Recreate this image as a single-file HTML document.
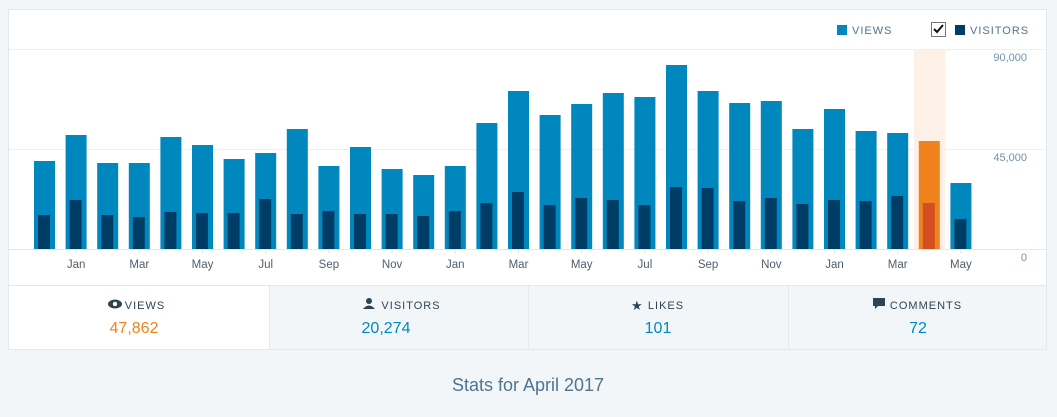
<!DOCTYPE html>
<html><head><meta charset="utf-8"><style>
html,body{margin:0;padding:0;background:#f3f6f8;width:1057px;height:417px;overflow:hidden}
svg{display:block;font-family:"Liberation Sans",sans-serif}
</style></head><body>
<svg id="s" width="1057" height="417" xmlns="http://www.w3.org/2000/svg">
<rect x="8.5" y="9.5" width="1038" height="340" fill="#fff" stroke="#e3e8ec"/>
<line x1="9" y1="49.5" x2="1046" y2="49.5" stroke="#eef1f3"/>
<line x1="9" y1="149.5" x2="1046" y2="149.5" stroke="#eef1f3"/>
<rect x="914" y="50" width="31" height="199" fill="#fdf0e6"/>
<g id="bars"></g>
<line x1="9" y1="249.5" x2="1046" y2="249.5" stroke="#e3e8ec"/>
<g id="ticks" font-size="11.5" fill="#4f5e6a" text-anchor="middle"></g>
<g font-size="11" fill="#6f93ad" text-anchor="end">
<text x="1027" y="61">90,000</text><text x="1027" y="161">45,000</text><text x="1027" y="261">0</text>
</g>
<rect x="837" y="25" width="10" height="10" fill="#0087be"/>
<text x="852" y="34" font-size="11" fill="#4f748e" letter-spacing="1">VIEWS</text>
<rect x="931.5" y="22.5" width="14" height="14" fill="#fff" stroke="#777"/>
<path d="M934 29 l3 3 l6 -7" stroke="#111" stroke-width="2" fill="none"/>
<rect x="955" y="25" width="10" height="10" fill="#003d66"/>
<text x="970" y="34" font-size="11" fill="#4f748e" letter-spacing="1">VISITORS</text>
<rect x="269" y="285" width="777" height="64" fill="#f3f6f8"/>
<line x1="9" y1="285.5" x2="1046" y2="285.5" stroke="#e3e8ec"/>
<line x1="269.5" y1="285" x2="269.5" y2="349" stroke="#e3e8ec"/>
<line x1="528.5" y1="285" x2="528.5" y2="349" stroke="#e3e8ec"/>
<line x1="788.5" y1="285" x2="788.5" y2="349" stroke="#e3e8ec"/>
<rect x="8.5" y="9.5" width="1038" height="340" fill="none" stroke="#e3e8ec"/>
<g font-size="11" fill="#2e4453" letter-spacing="1" text-anchor="middle">
<text x="145" y="309">VIEWS</text><text x="411" y="309">VISITORS</text>
<text x="666" y="309">LIKES</text><text x="926" y="309">COMMENTS</text>
</g>
<g fill="#2e4453">
<ellipse cx="115" cy="304" rx="7" ry="4.5"/><circle cx="115" cy="304" r="2.2" fill="#fff"/>
<circle cx="369" cy="301" r="3"/><path d="M363 309 q6 -7 12 0 z"/>
<text x="631" y="310" font-size="13">★</text>
<path d="M873 298 h12 v8 h-7 l-3 3 v-3 h-2 z"/>
</g>
<g font-size="16" text-anchor="middle">
<text x="134" y="333" fill="#f0821e">47,862</text>
<text x="386" y="333" fill="#0087be">20,274</text>
<text x="658" y="333" fill="#0087be">101</text>
<text x="918" y="333" fill="#0087be">72</text>
</g>
<text x="528" y="391" font-size="18" fill="#4f748e" text-anchor="middle">Stats for April 2017</text>
</svg>
<script>
var v=[161,135,163,163,137,145,159,153,129,166,147,169,175,166,123,91,115,104,93,97,65,91,103,101,129,109,131,133,141,183];
var u=[215,200,215,217,212,213,213,199,214,211,214,214,216,211,203,192,205,198,200,205,187,188,201,198,204,200,201,196,203,219];
var m=["Jan","Mar","May","Jul","Sep","Nov","Jan","Mar","May","Jul","Sep","Nov","Jan","Mar","May"];
var g=document.getElementById("bars"),t=document.getElementById("ticks"),h="";
for(var i=0;i<30;i++){var x=34+i*31.6;var o=i==28;
h+='<rect x="'+x+'" y="'+v[i]+'" width="21" height="'+(249-v[i])+'" fill="'+(o?'#f0821e':'#0087be')+'"/>';
h+='<rect x="'+(x+4)+'" y="'+u[i]+'" width="12" height="'+(249-u[i])+'" fill="'+(o?'#d54e21':'#003d66')+'"/>';}
g.innerHTML=h;h="";
for(var j=0;j<15;j++){var c=34+(2*j+1)*31.6+10.5;
h+='<line x1="'+c+'" y1="250" x2="'+c+'" y2="254" stroke="#dfe5ea"/><text x="'+c+'" y="268">'+m[j]+'</text>';}
t.innerHTML=h;
</script>
</body></html>
